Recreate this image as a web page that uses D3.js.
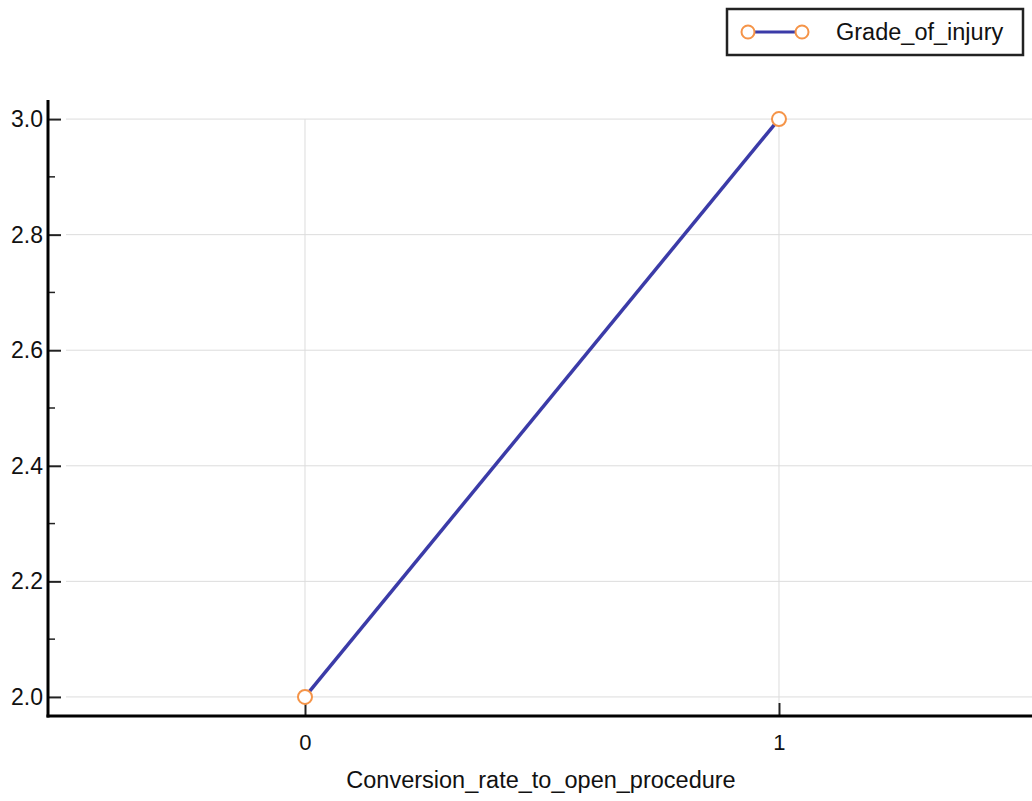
<!DOCTYPE html>
<html>
<head>
<meta charset="utf-8">
<script src="https://cdn.jsdelivr.net/npm/d3@7"></script>
<style>
  html, body { margin: 0; padding: 0; background: #fff; }
  svg { display: block; }
</style>
</head>
<body>
<svg id="chart" width="1032" height="801"></svg>
<script>
// data
const xValues = [0, 1];
const gradeOfInjury = [2.0, 3.0];
const seriesName = 'Grade_of_injury';
const xLabel = 'Conversion_rate_to_open_procedure';
const xTicks = [0, 1];
const yTicks = [2.0, 2.2, 2.4, 2.6, 2.8, 3.0];
const yMinorTicks = [2.1, 2.3, 2.5, 2.7, 2.9];

const W = 1032, H = 801;
const M = { left: 48, right: 0, top: 100, bottom: 85 };
const FONT = "'Liberation Sans', Arial, sans-serif";
const LINE_COLOR = '#3b3ba8';
const MARK_COLOR = '#f59448';
const GRID = '#dcdcdc';

const svg = d3.select('#chart');

const x = d3.scaleLinear().domain([-0.5422, 1.5338]).range([M.left, W - M.right]);
const y = d3.scaleLinear().domain([1.967, 3.033]).range([H - M.bottom, M.top]);

const axisY = H - M.bottom;

// horizontal grid
svg.append('g')
  .selectAll('line')
  .data(yTicks)
  .join('line')
  .attr('x1', M.left + 18)
  .attr('x2', W)
  .attr('y1', d => y(d))
  .attr('y2', d => y(d))
  .attr('stroke', GRID)
  .attr('stroke-width', 1);

// vertical grid
svg.append('g')
  .selectAll('line')
  .data(xTicks)
  .join('line')
  .attr('x1', d => x(d))
  .attr('x2', d => x(d))
  .attr('y1', y(3.0))
  .attr('y2', axisY - 13)
  .attr('stroke', GRID)
  .attr('stroke-width', 1);

// y axis
const yAxis = svg.append('g')
  .attr('transform', `translate(${M.left},0)`)
  .call(d3.axisLeft(y).tickValues(yTicks).tickSize(-13).tickPadding(5).tickFormat(d3.format('.1f')))
  .attr('font-size', null)
  .attr('font-family', null);
yAxis.select('.domain').remove();
yAxis.selectAll('.tick line').attr('stroke', '#222').attr('stroke-width', 2);
yAxis.selectAll('.tick text')
  .attr('fill', '#111')
  .style('font-family', FONT)
  .style('font-size', '23px');

svg.append('g')
  .selectAll('line')
  .data(yMinorTicks)
  .join('line')
  .attr('x1', M.left)
  .attr('x2', M.left + 7)
  .attr('y1', d => y(d))
  .attr('y2', d => y(d))
  .attr('stroke', '#222')
  .attr('stroke-width', 1.5);

// x axis
const xAxis = svg.append('g')
  .attr('transform', `translate(0,${axisY})`)
  .call(d3.axisBottom(x).tickValues(xTicks).tickSize(-13).tickPadding(18).tickFormat(d3.format('d')))
  .attr('font-size', null)
  .attr('font-family', null);
xAxis.select('.domain').remove();
xAxis.selectAll('.tick line').attr('stroke', '#222').attr('stroke-width', 2);
xAxis.selectAll('.tick text')
  .attr('fill', '#111')
  .style('font-family', FONT)
  .style('font-size', '22px');

// axis spines
svg.append('line')
  .attr('x1', M.left).attr('x2', M.left)
  .attr('y1', M.top).attr('y2', axisY + 1.5)
  .attr('stroke', '#000').attr('stroke-width', 3);
svg.append('line')
  .attr('x1', M.left - 1.5).attr('x2', W)
  .attr('y1', axisY).attr('y2', axisY)
  .attr('stroke', '#000').attr('stroke-width', 3);

// x label
svg.append('text')
  .attr('x', 541)
  .attr('y', 788)
  .attr('text-anchor', 'middle')
  .style('font-family', FONT)
  .style('font-size', '23.5px')
  .attr('fill', '#111')
  .text(xLabel);

// series
const pts = xValues.map((v, i) => [v, gradeOfInjury[i]]);
svg.append('path')
  .datum(pts)
  .attr('fill', 'none')
  .attr('stroke', LINE_COLOR)
  .attr('stroke-width', 3.5)
  .attr('d', d3.line().x(d => x(d[0])).y(d => y(d[1])));

svg.append('g')
  .selectAll('circle')
  .data(pts)
  .join('circle')
  .attr('cx', d => x(d[0]))
  .attr('cy', d => y(d[1]))
  .attr('r', 7)
  .attr('fill', '#fff')
  .attr('stroke', MARK_COLOR)
  .attr('stroke-width', 2);

// legend
const lg = svg.append('g').attr('transform', 'translate(727,9)');
lg.append('rect')
  .attr('width', 296).attr('height', 46)
  .attr('fill', '#fff')
  .attr('stroke', '#222')
  .attr('stroke-width', 2.5);
lg.append('line')
  .attr('x1', 21).attr('x2', 75)
  .attr('y1', 23).attr('y2', 23)
  .attr('stroke', LINE_COLOR).attr('stroke-width', 3);
[21, 75].forEach(cx => {
  lg.append('circle')
    .attr('cx', cx).attr('cy', 23).attr('r', 6.5)
    .attr('fill', '#fff').attr('stroke', MARK_COLOR).attr('stroke-width', 2);
});
lg.append('text')
  .attr('x', 109).attr('y', 31)
  .style('font-family', FONT)
  .style('font-size', '23.5px')
  .attr('fill', '#111')
  .text(seriesName);
</script>
</body>
</html>
